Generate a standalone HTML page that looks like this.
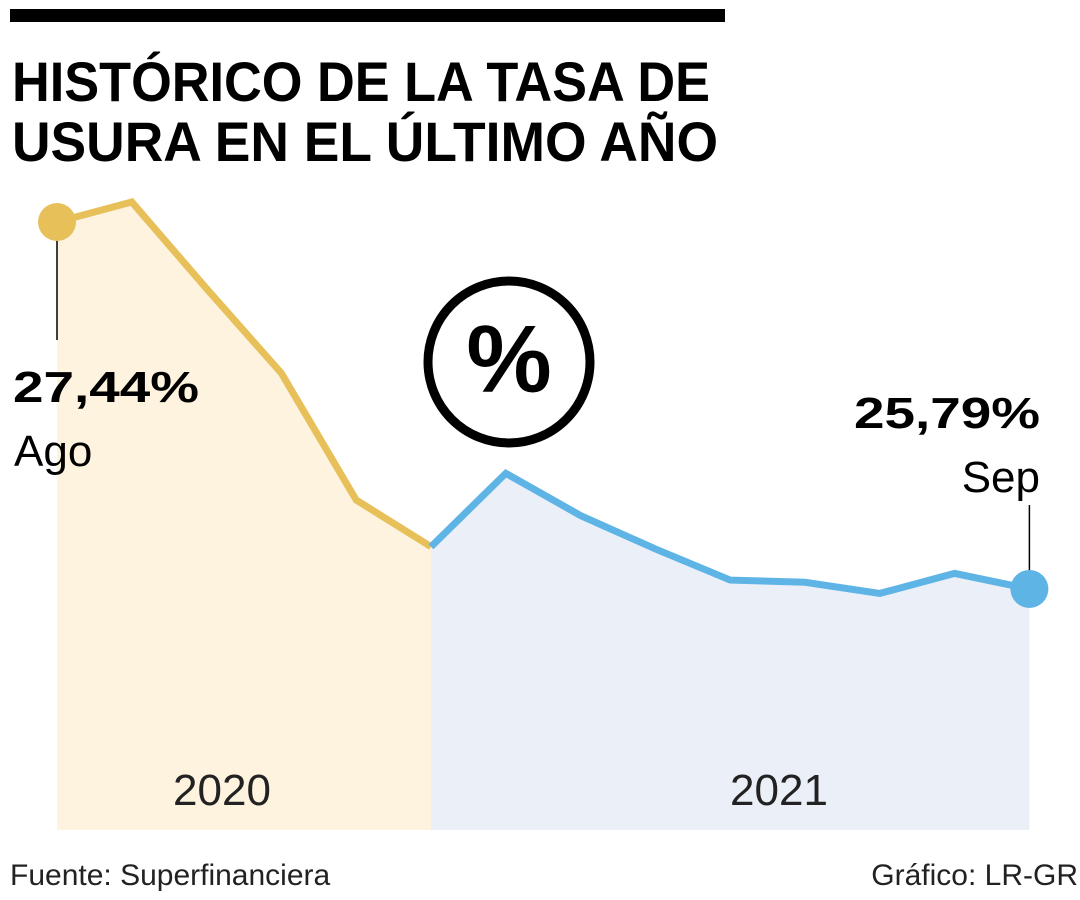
<!DOCTYPE html>
<html><head><meta charset="utf-8"><style>
html,body{margin:0;padding:0;background:#fff;}
svg{display:block;font-family:"Liberation Sans",sans-serif;}
</style></head><body>
<svg id="chart" width="1080" height="900" viewBox="0 0 1080 900">
<rect x="10" y="9" width="715" height="13" fill="#000"/>
<text x="12" y="101" font-size="56" font-weight="bold" textLength="698" lengthAdjust="spacingAndGlyphs">HISTÓRICO DE LA TASA DE</text>
<text x="12" y="161" font-size="56" font-weight="bold" textLength="706" lengthAdjust="spacingAndGlyphs">USURA EN EL ÚLTIMO AÑO</text>
<g id="plot"></g>
<circle cx="509" cy="362" r="81" fill="none" stroke="#000" stroke-width="9"/>
<text x="509" y="392" font-size="96" font-weight="bold" text-anchor="middle">%</text>
<text x="13" y="402" font-size="44" font-weight="bold" textLength="186" lengthAdjust="spacingAndGlyphs">27,44%</text>
<text x="14" y="466" font-size="44">Ago</text>
<text x="1040" y="428" font-size="44" font-weight="bold" text-anchor="end" textLength="186" lengthAdjust="spacingAndGlyphs">25,79%</text>
<text x="1040" y="492" font-size="44" text-anchor="end">Sep</text>
<text x="222" y="805" font-size="44" text-anchor="middle" fill="#222">2020</text>
<text x="779" y="805" font-size="44" text-anchor="middle" fill="#222">2021</text>
<text x="10" y="885" font-size="30" fill="#222">Fuente: Superfinanciera</text>
<text x="1078" y="885" font-size="30" fill="#222" text-anchor="end">Gráfico: LR-GR</text>
</svg>
<script>
const months2020 = ["Ago","Sep","Oct","Nov","Dic","Ene"];
const values2020 = [27.44,27.53,27.14,26.76,26.19,25.98];
const months2021 = ["Ene","Feb","Mar","Abr","May","Jun","Jul","Ago","Sep"];
const values2021 = [25.98,26.31,26.12,25.97,25.83,25.82,25.77,25.86,25.79];

const x0 = 57, step = 74.8, baseY = 830;
function xAt(i){ return x0 + i*step; }
function yAt(v){ return 222 + (27.44 - v)*222.4; }
const NS = "http://www.w3.org/2000/svg";
const g = document.getElementById('plot');
function mk(tag, attrs){ const e=document.createElementNS(NS,tag); for(const k in attrs) e.setAttribute(k,attrs[k]); g.appendChild(e); return e; }

function series(vals, offset, fill, stroke, nm){
  const pts = vals.map((v,i)=>[xAt(i+offset), yAt(v)]);
  const first = pts[0][0], last = pts[pts.length-1][0];
  const area = mk('path',{d:'M'+first+','+baseY+' L'+pts.map(p=>p.join(',')).join(' L')+' L'+last+','+baseY+' Z', fill:fill});
  
  
  const line = mk('polyline',{points:pts.map(p=>p.join(',')).join(' '), fill:'none', stroke:stroke, 'stroke-width':7, 'stroke-linejoin':'miter'});
  
  
  return pts;
}
const p1 = series(values2020, 0, '#fdf3de', '#e8c05a', 'series-2020');
const p2 = series(values2021, values2020.length-1, '#eaeff8', '#5fb4e6', 'series-2021');

const l1 = mk('line',{x1:p1[0][0], y1:p1[0][1], x2:p1[0][0], y2:340, stroke:'#000', 'stroke-width':1.5});


const e = p2[p2.length-1];
const l2 = mk('line',{x1:e[0], y1:e[1], x2:e[0], y2:505, stroke:'#000', 'stroke-width':1.5});


const c1 = mk('circle',{cx:p1[0][0], cy:p1[0][1], r:19, fill:'#e8c05a'});


const c2 = mk('circle',{cx:e[0], cy:e[1], r:19, fill:'#5fb4e6'});


</script>
</body></html>
